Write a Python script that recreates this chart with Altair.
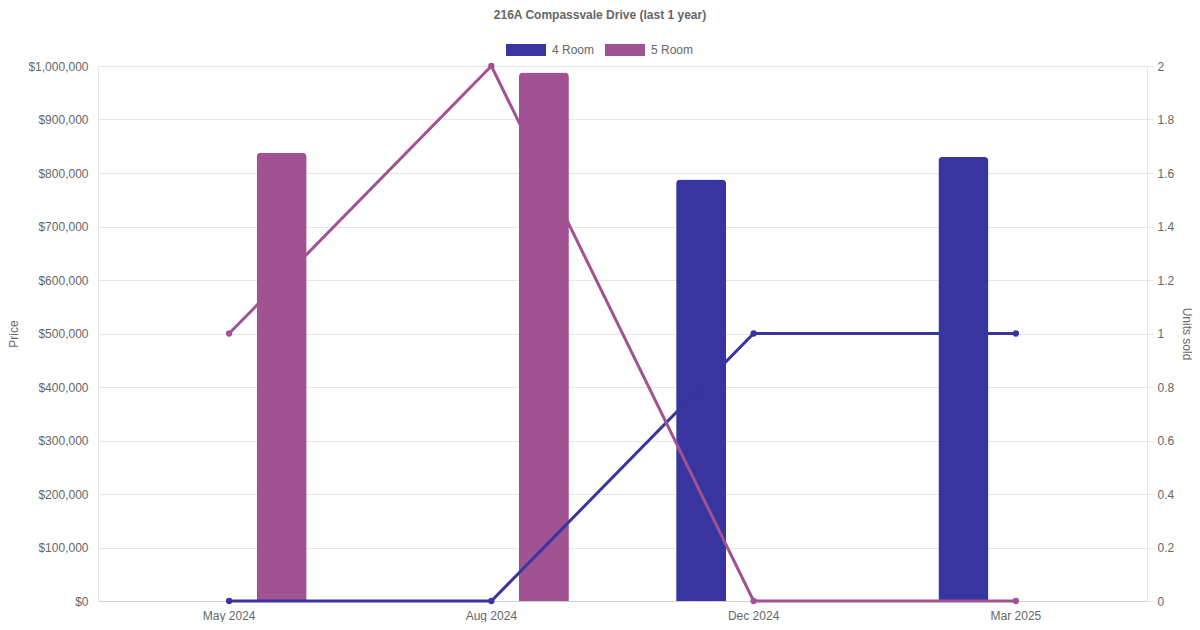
import altair as alt
import pandas as pd

months = ["May 2024", "Aug 2024", "Dec 2024", "Mar 2025"]
series = ["4 Room", "5 Room"]
price_4room = [None, None, 788000, 830000]
price_5room = [838000, 988000, None, None]
units_4room = [0, 0, 1, 1]
units_5room = [1, 2, 0, 0]
colors = ["#3935a0", "#a05292"]
price_ticks = [0, 100000, 200000, 300000, 400000, 500000, 600000, 700000, 800000, 900000, 1000000]
unit_ticks = [0, 0.2, 0.4, 0.6, 0.8, 1, 1.2, 1.4, 1.6, 1.8, 2]

rows = []
for i, m in enumerate(months):
    rows.append({"month": m, "type": "4 Room", "price": price_4room[i], "units": units_4room[i]})
    rows.append({"month": m, "type": "5 Room", "price": price_5room[i], "units": units_5room[i]})
df = pd.DataFrame(rows)

FONT = "Liberation Sans"
TXT = "#666666"
GRID = "#e6e6e6"

color_scale = alt.Scale(domain=series, range=colors)
x_scale = alt.Scale(domain=months, paddingInner=0, paddingOuter=0)

legend = alt.Legend(
    orient="none", legendX=408, legendY=-36, direction="horizontal", title=None,
    symbolType="M-1,-0.3H1V0.3H-1Z", symbolSize=1600, symbolStrokeWidth=0,
    symbolOpacity=1, labelColor=TXT, labelFontSize=12, labelFont=FONT,
    columnPadding=10, labelOffset=6,
)

bars = alt.Chart(df).transform_filter("isValid(datum.price)").mark_bar(
    cornerRadiusTopLeft=4, cornerRadiusTopRight=4
).encode(
    x=alt.X("month:N", scale=x_scale, sort=months, title=None,
            axis=alt.Axis(labelAngle=0, ticks=False, labelPadding=9, domainColor="#d0d0d0",
                          grid=False, labelColor=TXT, labelFontSize=12, labelFont=FONT)),
    xOffset=alt.XOffset("type:N", scale=alt.Scale(domain=series, paddingInner=0.5238, paddingOuter=0.5107)),
    y=alt.Y("price:Q", scale=alt.Scale(domain=[0, 1000000], nice=False),
            axis=alt.Axis(title="Price", values=price_ticks, format="$,.0f", tickSize=0,
                          labelPadding=10, gridColor=GRID, domainColor=GRID,
                          labelColor=TXT, labelFontSize=12, labelFont=FONT,
                          titleColor=TXT, titleFontSize=12, titleFont=FONT, titleFontWeight="normal",
                          titleX=-85, titleY=267.5, titleAngle=-90, titleAlign="center",
                          titleBaseline="middle")),
    color=alt.Color("type:N", scale=color_scale, legend=legend),
)

lines = alt.Chart(df).mark_line(strokeWidth=3, point=alt.OverlayMarkDef(size=40, filled=True)).encode(
    x=alt.X("month:N", scale=x_scale, sort=months, bandPosition=0.5, title=None),
    y=alt.Y("units:Q", scale=alt.Scale(domain=[0, 2], nice=False),
            axis=alt.Axis(title="Units sold", orient="right", values=unit_ticks, format="~g",
                          grid=False, tickSize=6, tickColor=GRID, labelPadding=4, domainColor=GRID,
                          labelColor=TXT, labelFontSize=12, labelFont=FONT,
                          titleColor=TXT, titleFontSize=12, titleFont=FONT, titleFontWeight="normal",
                          titleX=39, titleY=267.5, titleAngle=90, titleAlign="center",
                          titleBaseline="middle")),
    color=alt.Color("type:N", scale=color_scale, legend=None),
)

chart = alt.layer(bars, lines).resolve_scale(y="independent").properties(
    width=1049, height=535,
    title=alt.TitleParams("216A Compassvale Drive (last 1 year)", fontSize=12, fontWeight="bold",
                          color=TXT, font=FONT, anchor="middle", dx=-22.5, offset=8),
    autosize=alt.AutoSizeParams(type="none"),
    padding={"left": 90, "top": 58, "right": 45, "bottom": 21},
).configure_view(strokeWidth=0)

chart.save("out.html", embed_options={"renderer": "svg", "actions": False})
